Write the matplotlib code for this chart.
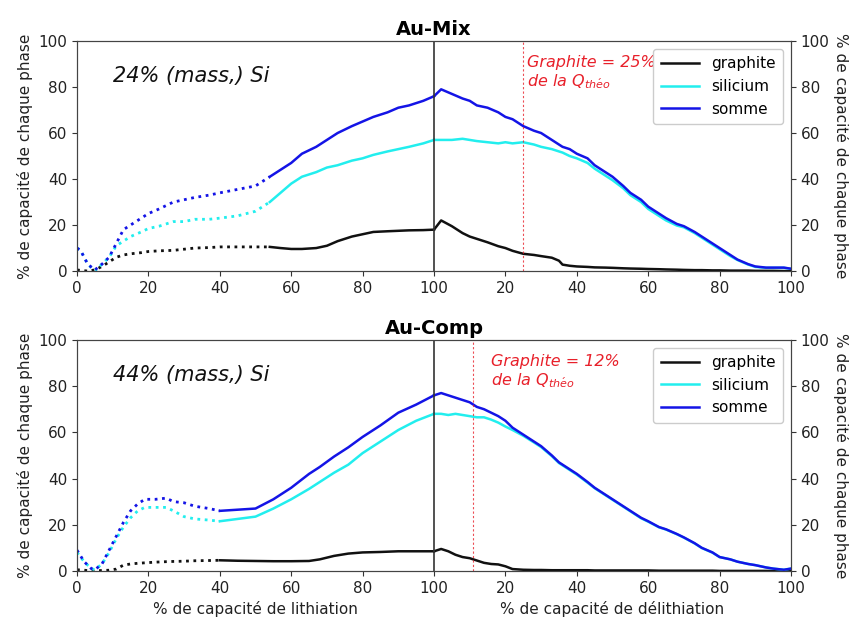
"""Au-Mix / Au-Comp : part de capacité de chaque phase (graphite / silicium)"""
import matplotlib
matplotlib.use('Agg')
import matplotlib.pyplot as plt
import matplotlib.transforms as mtransforms
import numpy as np

BLACK = '#111111'; CYAN = '#22eeee'; BLUE = '#1414e6'; RED = '#e8202a'

# ── Au-Mix : lithiation (x = % lithiation), dotted part up to MIX_DOT_END ──
mix_li_x   = [0, 1, 3, 5, 7, 9, 11, 13, 15, 18, 20, 23, 27, 30, 33, 37, 40, 45, 50, 54,
              57, 60, 63, 67, 70, 73, 77, 80, 83, 87, 90, 93, 97, 100]
mix_li_gr  = [0.5, 0.3, 0, 0.5, 2, 4, 6, 7, 7.5, 8, 8.5, 8.8, 9, 9.5, 10, 10.2, 10.5, 10.5, 10.5, 10.5,
              10, 9.6, 9.6, 10, 11, 13, 15, 16, 17, 17.3, 17.5, 17.7, 17.8, 18]
mix_li_si  = [10, 9, 3, 0, 3, 6, 11, 13, 15, 17, 18.5, 19.5, 21.5, 21.5, 22.5, 22.5, 23, 24, 26, 30,
              34, 38, 41, 43, 45, 46, 48, 49, 50.5, 52, 53, 54, 55.5, 57]
mix_li_sum = [10, 9, 3, 0.5, 3, 6, 12, 18, 20, 23, 25, 27, 30, 31, 32, 33, 34, 35.5, 37, 41,
              44, 47, 51, 54, 57, 60, 63, 65, 67, 69, 71, 72, 74, 76]
MIX_DOT_END = 54

# ── Au-Mix : délithiation (d = % délithiation) ──
mix_de_d   = [0, 2, 5, 8, 10, 12, 15, 18, 20, 22, 25, 28, 30, 33, 35, 36, 38, 40, 43, 45, 48, 50,
              53, 55, 58, 60, 63, 65, 68, 70, 73, 75, 78, 80, 83, 85, 88, 90, 93, 95, 98, 100]
mix_de_gr  = [18, 22, 19.5, 16.5, 15, 14, 12.5, 10.8, 10, 8.8, 7.5, 7, 6.5, 5.8, 4.5, 2.8, 2.3, 2, 1.8, 1.6, 1.5, 1.4,
              1.2, 1.1, 1, 0.9, 0.8, 0.7, 0.6, 0.5, 0.4, 0.4, 0.3, 0.3, 0.2, 0.2, 0.2, 0.1, 0.1, 0.1, 0, 0]
mix_de_si  = [57, 57, 57, 57.5, 57, 56.5, 56, 55.5, 56, 55.5, 56, 55, 54, 53, 52, 51.5, 50, 49, 47, 44.5, 41.5, 39.5,
              36, 33, 30, 27, 24, 22, 19.8, 19, 16.5, 14.5, 11.5, 9.5, 6.5, 4.8, 2.8, 1.8, 1.4, 1.4, 1.4, 1]
mix_de_sum = [76, 79, 77, 75, 74, 72, 71, 69, 67, 66, 63, 61, 60, 57, 55, 54, 53, 51, 49, 46, 43, 41,
              37, 34, 31, 28, 25, 23, 20.5, 19.5, 17, 15, 12, 10, 7, 5, 3, 2, 1.5, 1.5, 1.5, 1]
MIX_LINE = 25

# ── Au-Comp : lithiation, dotted part up to COMP_DOT_END ──
comp_li_x   = [0, 2, 4, 5, 7, 9, 11, 13, 15, 17, 19, 22, 25, 27, 30, 33, 37, 40,
               45, 50, 55, 60, 65, 68, 72, 76, 80, 85, 90, 95, 100]
comp_li_gr  = [0.5, 0.3, 0, 0, 0.2, 0.3, 0.8, 2.5, 3, 3.3, 3.5, 3.8, 4, 4.1, 4.2, 4.4, 4.5, 4.6,
               4.4, 4.3, 4.2, 4.2, 4.3, 5, 6.5, 7.5, 8, 8.2, 8.5, 8.5, 8.5]
comp_li_si  = [8, 4, 1, 0.5, 3, 8, 14, 19, 23, 26, 27.5, 27.5, 27.5, 26, 23.5, 22.5, 22, 21.5,
               22.5, 23.5, 27, 31, 35.5, 38.5, 42.5, 46, 51, 56, 61, 65, 68]
comp_li_sum = [9, 4, 1, 0.5, 3, 9, 15, 21, 26, 29, 31, 31, 31.5, 30, 29.5, 28, 27, 26,
               26.5, 27, 31, 36, 42, 45, 49.5, 53.5, 58, 63, 68.5, 72, 76]
COMP_DOT_END = 40

# ── Au-Comp : délithiation ──
comp_de_d   = [0, 2, 4, 6, 8, 10, 12, 14, 16, 18, 20, 22, 25, 28, 30, 33, 35, 38, 40, 43, 45, 48, 50,
               53, 55, 58, 60, 63, 65, 68, 70, 73, 75, 78, 80, 83, 85, 88, 90, 93, 95, 98, 100]
comp_de_gr  = [8.5, 9.5, 8.5, 7, 6, 5.5, 4.5, 3.5, 3, 2.8, 2, 0.8, 0.5, 0.4, 0.4, 0.3, 0.3, 0.3, 0.3, 0.3, 0.2, 0.2, 0.2,
               0.2, 0.2, 0.2, 0.2, 0.1, 0.1, 0.1, 0.1, 0.1, 0.1, 0.1, 0, 0, 0, 0, 0, 0, 0, 0, 0]
comp_de_si  = [68, 68, 67.5, 68, 67.5, 67, 66.5, 66.5, 65.5, 64.2, 62.5, 61, 58.5, 55.6, 53.6, 49.7, 46.7, 43.7, 41.7, 38.2, 35.8, 32.8, 30.8,
               27.8, 25.8, 22.8, 21.3, 18.9, 17.9, 15.9, 14.4, 11.9, 9.9, 7.9, 6, 5, 4, 3, 2.5, 1.5, 1, 0.5, 1]
comp_de_sum = [76, 77, 76, 75, 74, 73, 71, 70, 68.5, 67, 65, 62, 59, 56, 54, 50, 47, 44, 42, 38.5, 36, 33, 31,
               28, 26, 23, 21.5, 19, 18, 16, 14.5, 12, 10, 8, 6, 5, 4, 3, 2.5, 1.5, 1, 0.5, 1]
COMP_LINE = 11

XTICKS = [0, 20, 40, 60, 80, 100, 120, 140, 160, 180, 200]
XTICKLABELS = ['0', '20', '40', '60', '80', '100', '20', '40', '60', '80', '100']
YLAB = '% de capacité de chaque phase'


def draw_panel(ax, title, note, li_x, li_series, dot_end, de_d, de_series, line_at, red_txt, txt_x):
    li_x = np.array(li_x)
    de_x = 100 + np.array(de_d)
    for (ys, col, lab), dys in zip(li_series, de_series):
        ys = np.array(ys)
        m_dot = li_x <= dot_end
        m_sol = li_x >= dot_end
        ax.plot(li_x[m_dot], ys[m_dot], ':', color=col, lw=2)
        ax.plot(li_x[m_sol], ys[m_sol], '-', color=col, lw=1.8, label=lab)
        ax.plot(de_x, dys, '-', color=col, lw=1.8)
    ax.axvline(100, color='#333333', lw=1.2)
    ax.axvline(100 + line_at, color=RED, lw=0.8, ls=(0, (2, 2)), alpha=0.8)
    ax.set_xlim(0, 200); ax.set_ylim(0, 100)
    ax.set_xticks(XTICKS); ax.set_xticklabels(XTICKLABELS)
    ax.set_yticks(range(0, 101, 20))
    ax.tick_params(labelsize=11, colors='#333333', labelcolor='#222222')
    ax.set_ylabel(YLAB, fontsize=11, color='#222222')
    ax.set_title(title, fontsize=14, fontweight='bold', pad=4)
    ax.text(0.05, 0.85, note, transform=ax.transAxes, fontsize=15, style='italic',
            color='#111111', va='center')
    ax.text(txt_x, 94, red_txt, fontsize=11.5, style='italic', color=RED, va='top')
    ax.legend(loc='upper right', fontsize=11, handlelength=2.5, borderpad=0.5,
              framealpha=1, edgecolor='#cccccc')
    axr = ax.twinx()
    axr.set_ylim(0, 100); axr.set_yticks(range(0, 101, 20))
    axr.tick_params(labelsize=11, colors='#333333', labelcolor='#222222')
    axr.set_ylabel(YLAB, fontsize=11, rotation=270, labelpad=14, color='#222222')
    for a in (ax, axr):
        for s in a.spines.values():
            s.set_color('#444444')


fig = plt.figure(figsize=(8.49, 6.26), dpi=100, facecolor='white')
ax1 = fig.add_axes([0.0907, 0.567, 0.841, 0.3675])
ax2 = fig.add_axes([0.0907, 0.088, 0.841, 0.369])

draw_panel(ax1, 'Au-Mix', '24% (mass,) Si', mix_li_x,
           [(mix_li_gr, BLACK, 'graphite'), (mix_li_si, CYAN, 'silicium'), (mix_li_sum, BLUE, 'somme')],
           MIX_DOT_END, mix_de_d, [mix_de_gr, mix_de_si, mix_de_sum], MIX_LINE,
           'Graphite = 25%\nde la Q$_{\\mathit{th\\acute{e}o}}$', 126)
draw_panel(ax2, 'Au-Comp', '44% (mass,) Si', comp_li_x,
           [(comp_li_gr, BLACK, 'graphite'), (comp_li_si, CYAN, 'silicium'), (comp_li_sum, BLUE, 'somme')],
           COMP_DOT_END, comp_de_d, [comp_de_gr, comp_de_si, comp_de_sum], COMP_LINE,
           'Graphite = 12%\nde la Q$_{\\mathit{th\\acute{e}o}}$', 116)

# two x labels, one under each half
trans = mtransforms.blended_transform_factory(ax2.transData, ax2.transAxes)
ax2.text(50, -0.13, '% de capacité de lithiation', transform=trans, ha='center', va='top',
         fontsize=11, color='#222222')
ax2.text(150, -0.13, '% de capacité de délithiation', transform=trans, ha='center', va='top',
         fontsize=11, color='#222222')

fig.savefig('out.png', dpi=100, facecolor='white')
plt.close(fig)
